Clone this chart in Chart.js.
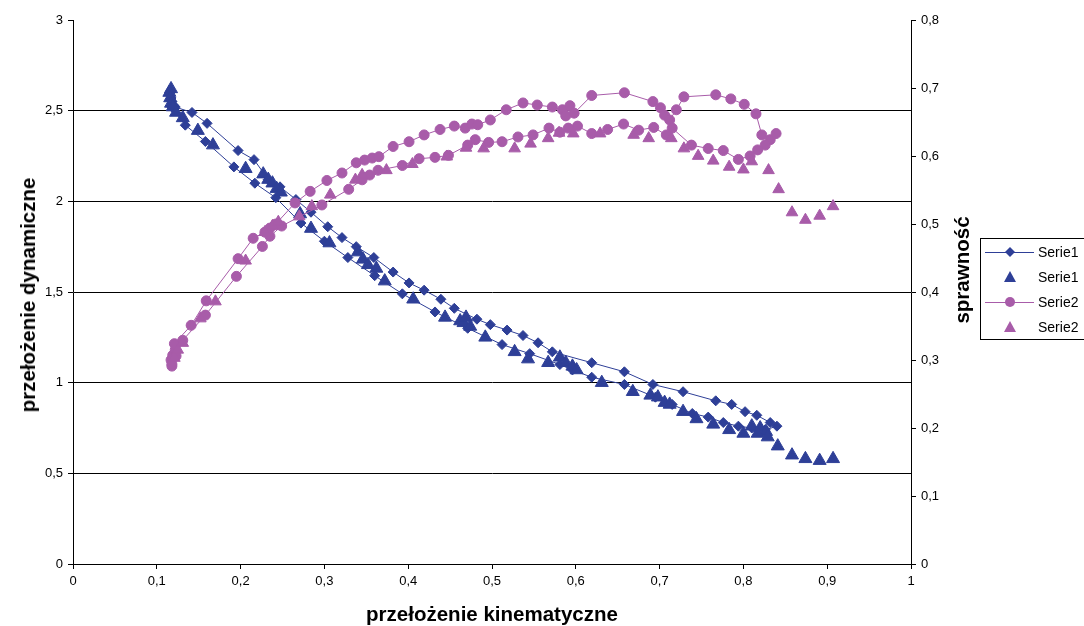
<!DOCTYPE html>
<html>
<head>
<meta charset="utf-8">
<script src="https://cdn.jsdelivr.net/npm/chart.js@4.4.0/dist/chart.umd.min.js"></script>
<style>
  body { margin: 0; background: #fff; }
  #wrap { position: relative; width: 1084px; height: 626px; overflow: hidden;
          font-family: "Liberation Sans", Arial, sans-serif; color: #000; }
  #chart { position: absolute; left: 0; top: 0; }
  .ttl { position: absolute; font-weight: bold; font-size: 20.5px; white-space: nowrap;
         transform: translate(-50%, -50%); }
  .rot { transform: translate(-50%, -50%) rotate(-90deg); }
  #legend { position: absolute; left: 980px; top: 238px; width: 120px; height: 100px;
            border: 1px solid #000; background: #fff; font-size: 14px; }
  #legend .row { position: absolute; left: 0; height: 20px; width: 120px; }
  #legend svg { position: absolute; left: 4px; top: 0; }
  #legend span { position: absolute; left: 57px; top: 2px; }
</style>
</head>
<body>
<div id="wrap">
  <canvas id="chart" width="1084" height="626"></canvas>
  <div class="ttl rot" style="left:28px; top:295px;">przełożenie dynamiczne</div>
  <div class="ttl rot" style="left:962px; top:270px;">sprawność</div>
  <div class="ttl" style="left:492px; top:614px;">przełożenie kinematyczne</div>
  <div id="legend"></div>
</div>
<script>
// Serie1 (diamonds, line) - left axis
var s1LineX = [0.116,0.117,0.118,0.120,0.122,0.142,0.160,0.197,0.216,0.233,0.247,0.266,0.284,0.304,0.321,0.338,0.359,0.382,0.401,0.419,0.439,0.455,0.482,0.498,0.518,0.537,0.555,0.572,0.619,0.658,0.692,0.728,0.767,0.786,0.802,0.816,0.832,0.840,
               0.826,0.810,0.794,0.776,0.758,0.739,0.715,0.695,0.658,0.619,0.596,0.581,0.545,0.512,0.471,0.432,0.393,0.360,0.328,0.300,0.272,0.242,0.217,0.192,0.158,0.134,0.118];
var s1LineY = [2.60,2.57,2.55,2.53,2.52,2.49,2.43,2.28,2.23,2.12,2.08,2.01,1.94,1.86,1.80,1.75,1.69,1.61,1.55,1.51,1.46,1.41,1.35,1.32,1.29,1.26,1.22,1.17,1.11,1.06,0.99,0.95,0.90,0.88,0.84,0.82,0.78,0.76,
               0.74,0.75,0.76,0.78,0.81,0.83,0.88,0.92,0.99,1.03,1.07,1.10,1.16,1.21,1.30,1.39,1.49,1.59,1.69,1.78,1.88,2.02,2.10,2.19,2.33,2.42,2.52];
// Serie1 (triangles) - left axis
var s1TriX = [0.117,0.115,0.116,0.117,0.119,0.123,0.131,0.149,0.167,0.206,0.227,0.233,0.238,0.243,0.248,0.271,0.284,0.306,0.340,0.346,0.352,0.362,0.372,0.406,0.444,0.462,0.466,0.469,0.474,0.492,0.527,0.543,0.567,0.581,0.588,0.596,0.601,0.631,0.668,0.689,0.698,0.706,0.712,0.728,0.744,0.764,0.783,0.800,0.810,0.820,0.827,0.817,0.829,0.841,0.858,0.874,0.891,0.907];
var s1TriY = [2.62,2.60,2.57,2.54,2.52,2.49,2.46,2.39,2.31,2.18,2.15,2.12,2.10,2.07,2.05,1.93,1.85,1.77,1.72,1.68,1.65,1.63,1.56,1.46,1.36,1.34,1.33,1.36,1.31,1.25,1.17,1.13,1.11,1.14,1.11,1.09,1.07,1.00,0.95,0.93,0.92,0.89,0.88,0.84,0.80,0.77,0.74,0.72,0.76,0.75,0.73,0.72,0.70,0.65,0.60,0.58,0.57,0.58];
// Serie2 (circles, line) - right axis
var s2LineX = [0.118,0.117,0.119,0.122,0.121,0.141,0.159,0.197,0.215,0.229,0.235,0.242,0.265,0.283,0.303,0.321,0.338,0.348,0.357,0.365,0.382,0.401,0.419,0.438,0.455,0.468,0.476,0.483,0.498,0.517,0.537,0.554,0.572,0.584,0.588,0.593,0.598,0.619,0.658,0.692,0.701,0.706,0.712,0.720,0.729,0.767,0.785,0.801,0.815,0.822,0.832,0.839,0.826,0.817,0.808,
               0.794,0.776,0.758,0.738,0.715,0.708,0.693,0.675,0.657,0.638,0.619,0.602,0.591,0.581,0.568,0.549,0.531,0.512,0.496,0.480,0.471,0.448,0.432,0.413,0.393,0.364,0.354,0.345,0.329,0.297,0.249,0.235,0.226,0.195,0.158,0.131,0.123,0.118];
var s2LineY = [0.291,0.300,0.307,0.315,0.324,0.351,0.387,0.449,0.479,0.488,0.494,0.500,0.531,0.548,0.564,0.575,0.590,0.594,0.597,0.599,0.614,0.621,0.631,0.639,0.644,0.641,0.647,0.646,0.653,0.668,0.678,0.675,0.672,0.668,0.659,0.674,0.663,0.689,0.693,0.680,0.671,0.660,0.653,0.668,0.687,0.690,0.684,0.676,0.662,0.631,0.624,0.633,0.616,0.609,0.600,
               0.595,0.608,0.611,0.616,0.641,0.631,0.642,0.638,0.647,0.639,0.633,0.644,0.641,0.635,0.641,0.631,0.628,0.621,0.620,0.624,0.616,0.601,0.598,0.596,0.586,0.579,0.572,0.565,0.551,0.528,0.497,0.482,0.467,0.423,0.366,0.329,0.306,0.294];
// Serie2 (triangles) - right axis
var s2TriX = [0.121,0.125,0.131,0.152,0.170,0.206,0.229,0.238,0.245,0.270,0.285,0.307,0.337,0.345,0.374,0.405,0.446,0.469,0.490,0.527,0.546,0.567,0.580,0.597,0.629,0.669,0.687,0.714,0.729,0.746,0.764,0.783,0.800,0.810,0.830,0.842,0.858,0.874,0.891,0.907];
var s2TriY = [0.303,0.315,0.325,0.361,0.386,0.446,0.488,0.497,0.503,0.511,0.526,0.543,0.565,0.572,0.579,0.588,0.599,0.612,0.611,0.611,0.618,0.626,0.634,0.633,0.633,0.631,0.626,0.626,0.611,0.600,0.593,0.584,0.580,0.592,0.579,0.551,0.517,0.506,0.512,0.526];

var blue = '#2e3f97';
var purple = '#a85ca9';

function pts(xs, ys) {
  return xs.map(function (x, i) { return { x: x, y: ys[i] }; });
}
function comma(v) {
  return String(Math.round(v * 10) / 10).replace('.', ',');
}

var tickFont = { family: '"Liberation Sans", Arial, sans-serif', size: 13 };

var chart = new Chart(document.getElementById('chart'), {
  type: 'scatter',
  data: {
    datasets: [
      { label: 'Serie1', data: pts(s1LineX, s1LineY), yAxisID: 'y', showLine: true,
        borderColor: blue, borderWidth: 1, backgroundColor: blue,
        pointStyle: 'rectRot', pointRadius: 5, pointBorderWidth: 1, order: 4 },
      { label: 'Serie1', data: pts(s1TriX, s1TriY), yAxisID: 'y', showLine: false,
        borderColor: blue, backgroundColor: blue,
        pointStyle: 'triangle', pointRadius: 7.5, pointBorderWidth: 1, order: 3 },
      { label: 'Serie2', data: pts(s2LineX, s2LineY), yAxisID: 'y2', showLine: true,
        borderColor: purple, borderWidth: 1, backgroundColor: purple,
        pointStyle: 'circle', pointRadius: 5, pointBorderWidth: 1, order: 2 },
      { label: 'Serie2', data: pts(s2TriX, s2TriY), yAxisID: 'y2', showLine: false,
        borderColor: purple, backgroundColor: purple,
        pointStyle: 'triangle', pointRadius: 6.7, pointBorderWidth: 1, order: 1 }
    ]
  },
  options: {
    responsive: false,
    animation: false,
    layout: { padding: { left: 0, right: 103, top: 20, bottom: 0 } },
    plugins: { legend: { display: false }, tooltip: { enabled: false } },
    elements: { line: { tension: 0 } },
    scales: {
      x: {
        type: 'linear', position: 'bottom', min: 0, max: 1,
        afterFit: function (s) { s.height = 62; },
        border: { color: '#000', width: 1 },
        grid: { drawOnChartArea: false, color: '#000', tickLength: 5 },
        ticks: { stepSize: 0.1, color: '#000', font: tickFont, padding: 5, maxRotation: 0,
                 callback: function (v) { return comma(v); } }
      },
      y: {
        type: 'linear', position: 'left', min: 0, max: 3,
        afterFit: function (s) { s.width = 73; },
        border: { color: '#000', width: 1 },
        grid: {
          tickLength: 5, tickColor: '#000',
          color: function (ctx) { return ctx.tick && ctx.tick.value === 3 ? 'rgba(0,0,0,0)' : '#000'; }
        },
        ticks: { stepSize: 0.5, color: '#000', font: tickFont, padding: 5,
                 callback: function (v) { return comma(v); } }
      },
      y2: {
        type: 'linear', position: 'right', min: 0, max: 0.8,
        afterFit: function (s) { s.width = 70; },
        border: { color: '#000', width: 1 },
        grid: { drawOnChartArea: false, color: '#000', tickLength: 5 },
        ticks: { stepSize: 0.1, color: '#000', font: tickFont, padding: 5,
                 callback: function (v) { return comma(v); } }
      }
    }
  }
});

// legend built from the datasets
var legendRows = [
  { ds: 0, line: true, shape: 'diamond' },
  { ds: 1, line: false, shape: 'triangle' },
  { ds: 2, line: true, shape: 'circle' },
  { ds: 3, line: false, shape: 'triangle' }
];
var lg = document.getElementById('legend');
legendRows.forEach(function (r, i) {
  var ds = chart.data.datasets[r.ds];
  var c = ds.borderColor;
  var shape = '';
  if (r.shape === 'diamond') shape = '<polygon points="25,5 30,10 25,15 20,10" fill="' + c + '"/>';
  if (r.shape === 'circle') shape = '<circle cx="25" cy="10" r="5" fill="' + c + '"/>';
  if (r.shape === 'triangle') shape = '<polygon points="25,4 31,15 19,15" fill="' + c + '"/>';
  var line = r.line ? '<line x1="0" y1="10.5" x2="49" y2="10.5" stroke="' + c + '" stroke-width="1"/>' : '';
  var row = document.createElement('div');
  row.className = 'row';
  row.style.top = (i * 25 + 3) + 'px';
  row.innerHTML = '<svg width="50" height="20">' + line + shape + '</svg><span>' + ds.label + '</span>';
  lg.appendChild(row);
});
</script>
</body>
</html>
